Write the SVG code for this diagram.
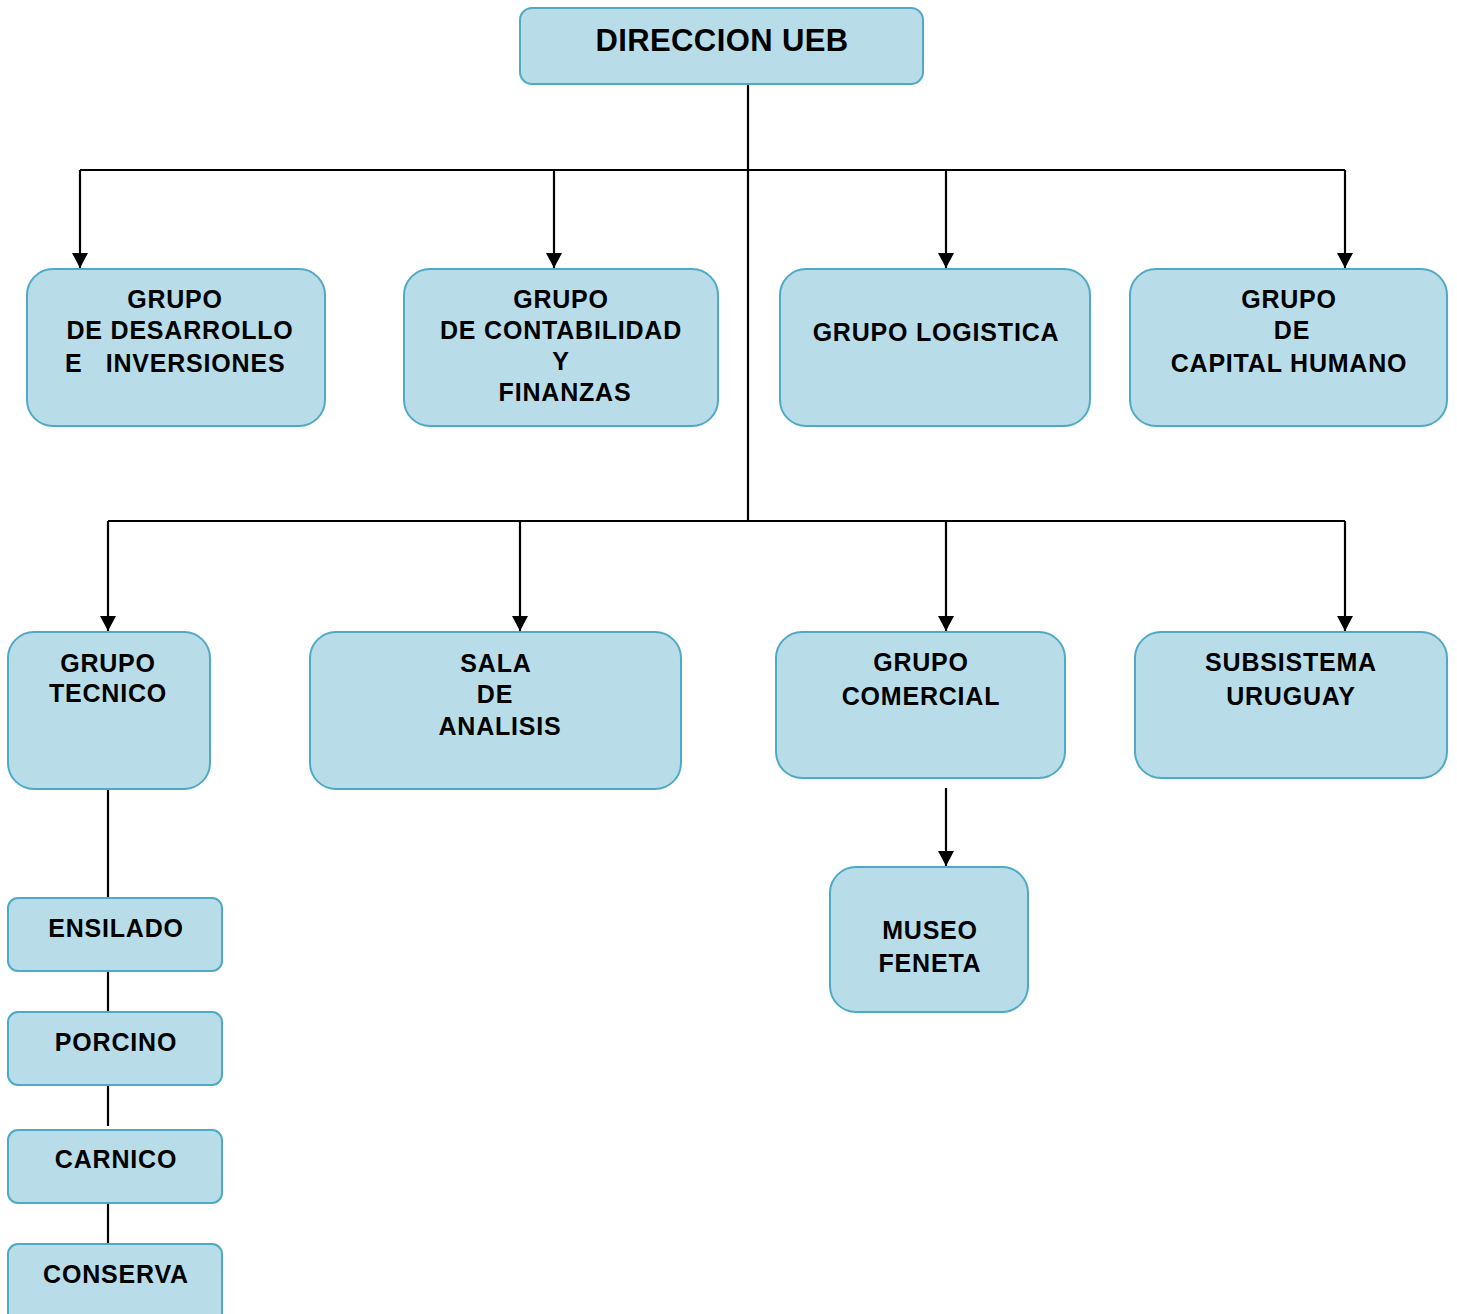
<svg xmlns="http://www.w3.org/2000/svg" width="1457" height="1314" viewBox="0 0 1457 1314">
<defs>
<marker id="arr" markerWidth="16" markerHeight="16" refX="15" refY="8" orient="auto" markerUnits="userSpaceOnUse">
<path d="M0,0 L15,8 L0,16 Z" fill="#000"/>
</marker>
<style>
.box{fill:#b8dde8;stroke:#4eaac6;stroke-width:2}
.t{font-family:"Liberation Sans",Arial,sans-serif;font-weight:bold;font-size:25px;fill:#000;text-anchor:middle;letter-spacing:0.8px}
.big{font-size:31px;letter-spacing:0.4px}
.ln{stroke:#000;stroke-width:2.2;fill:none}
</style>
</defs>
<rect width="1457" height="1314" fill="#fff"/>
<g id="connectors">
<path class="ln" d="M748,84 V521"/>
<path class="ln" d="M80,170 H1345"/>
<path class="ln" d="M80,170 V268" marker-end="url(#arr)"/>
<path class="ln" d="M554,170 V268" marker-end="url(#arr)"/>
<path class="ln" d="M946,170 V268" marker-end="url(#arr)"/>
<path class="ln" d="M1345,170 V268" marker-end="url(#arr)"/>
<path class="ln" d="M108,521 H1345"/>
<path class="ln" d="M108,521 V631" marker-end="url(#arr)"/>
<path class="ln" d="M520,521 V631" marker-end="url(#arr)"/>
<path class="ln" d="M946,521 V631" marker-end="url(#arr)"/>
<path class="ln" d="M1345,521 V631" marker-end="url(#arr)"/>
<path class="ln" d="M946,788 V866" marker-end="url(#arr)"/>
<path class="ln" d="M108,789 V898"/>
<path class="ln" d="M108,971 V1012"/>
<path class="ln" d="M108,1085 V1126"/>
<path class="ln" d="M108,1203 V1244"/>
</g>
<g id="direccion">
<rect class="box" x="520" y="8" width="403" height="76" rx="12"/>
<text class="t big" x="722" y="51">DIRECCION UEB</text>
</g>
<g id="desarrollo">
<rect class="box" x="27" y="269" width="298" height="157" rx="26"/>
<text class="t" x="175" y="308">GRUPO</text>
<text class="t" x="180" y="339">DE DESARROLLO</text>
<text class="t" x="65" y="372" style="text-anchor:start" xml:space="preserve">E   INVERSIONES</text>
</g>
<g id="contabilidad">
<rect class="box" x="404" y="269" width="314" height="157" rx="26"/>
<text class="t" x="561" y="308">GRUPO</text>
<text class="t" x="561" y="339">DE CONTABILIDAD</text>
<text class="t" x="561" y="370">Y</text>
<text class="t" x="565" y="401">FINANZAS</text>
</g>
<g id="logistica">
<rect class="box" x="780" y="269" width="310" height="157" rx="26"/>
<text class="t" x="936" y="341">GRUPO LOGISTICA</text>
</g>
<g id="capital">
<rect class="box" x="1130" y="269" width="317" height="157" rx="26"/>
<text class="t" x="1289" y="308">GRUPO</text>
<text class="t" x="1292" y="339">DE</text>
<text class="t" x="1289" y="372">CAPITAL HUMANO</text>
</g>
<g id="tecnico">
<rect class="box" x="8" y="632" width="202" height="157" rx="26"/>
<text class="t" x="108" y="672">GRUPO</text>
<text class="t" x="108" y="702">TECNICO</text>
</g>
<g id="sala">
<rect class="box" x="310" y="632" width="371" height="157" rx="26"/>
<text class="t" x="496" y="672">SALA</text>
<text class="t" x="495" y="703">DE</text>
<text class="t" x="500" y="735">ANALISIS</text>
</g>
<g id="comercial">
<rect class="box" x="776" y="632" width="289" height="146" rx="26"/>
<text class="t" x="921" y="671">GRUPO</text>
<text class="t" x="921" y="705">COMERCIAL</text>
</g>
<g id="uruguay">
<rect class="box" x="1135" y="632" width="312" height="146" rx="26"/>
<text class="t" x="1291" y="671">SUBSISTEMA</text>
<text class="t" x="1291" y="705">URUGUAY</text>
</g>
<g id="museo">
<rect class="box" x="830" y="867" width="198" height="145" rx="26"/>
<text class="t" x="930" y="939">MUSEO</text>
<text class="t" x="930" y="972">FENETA</text>
</g>
<g id="ensilado">
<rect class="box" x="8" y="898" width="214" height="73" rx="10"/>
<text class="t" x="116" y="937">ENSILADO</text>
</g>
<g id="porcino">
<rect class="box" x="8" y="1012" width="214" height="73" rx="10"/>
<text class="t" x="116" y="1051">PORCINO</text>
</g>
<g id="carnico">
<rect class="box" x="8" y="1130" width="214" height="73" rx="10"/>
<text class="t" x="116" y="1168">CARNICO</text>
</g>
<g id="conserva">
<rect class="box" x="8" y="1244" width="214" height="80" rx="10"/>
<text class="t" x="116" y="1283">CONSERVA</text>
</g>
</svg>
